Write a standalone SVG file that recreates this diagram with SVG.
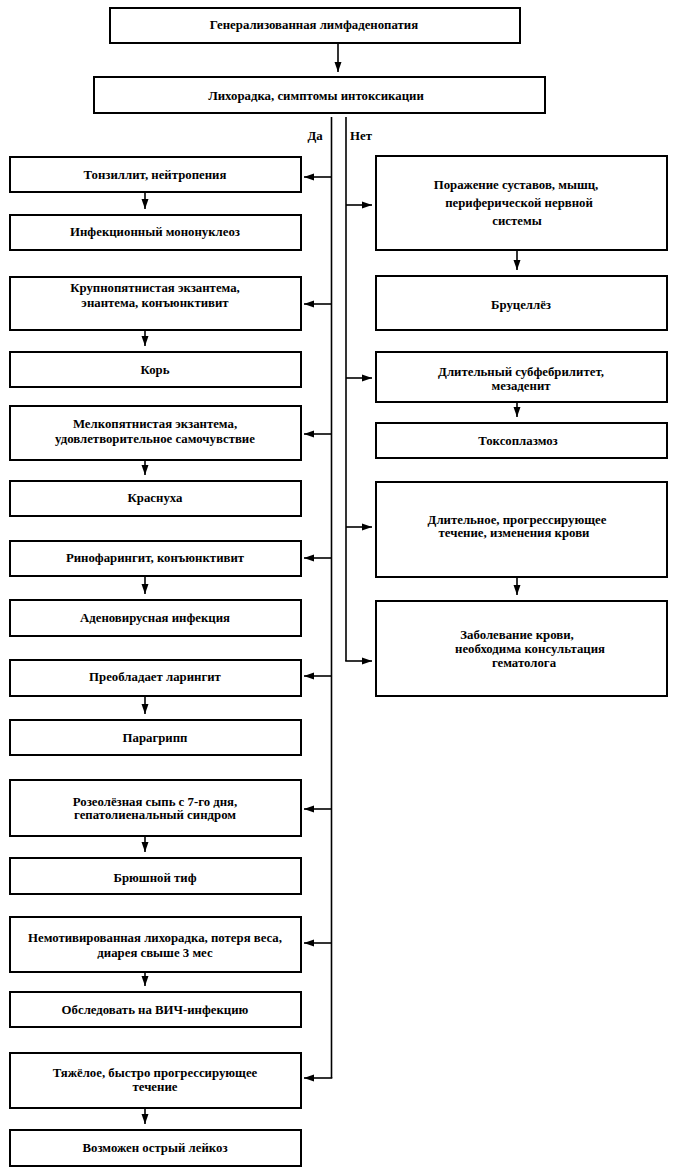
<svg xmlns="http://www.w3.org/2000/svg" width="676" height="1176" viewBox="0 0 676 1176">
<style>
rect.b{fill:#fff;stroke:#000;stroke-width:2}
text{font-family:"Liberation Serif","Times New Roman",serif;font-size:12.8px;font-weight:bold;text-anchor:middle;fill:#000}
.c line,.c path{stroke:#000;stroke-width:1.6;fill:none}
</style>
<defs>
<marker id="ah" markerUnits="userSpaceOnUse" markerWidth="10" markerHeight="10" viewBox="0 0 10 10" refX="10" refY="5" orient="auto">
<path d="M0,1.5 L10,5 L0,8.5 Z" fill="#000"/>
</marker>
</defs>
<rect width="676" height="1176" fill="#fff"/>
<g class="c" id="connectors">
<line x1="338" y1="44" x2="338" y2="72" marker-end="url(#ah)"/>
<line x1="331.5" y1="117" x2="331.5" y2="1078"/>
<line x1="346" y1="117" x2="346" y2="661"/>
<line x1="331.5" y1="177" x2="304" y2="177" marker-end="url(#ah)"/>
<line x1="331.5" y1="304" x2="304" y2="304" marker-end="url(#ah)"/>
<line x1="331.5" y1="434" x2="304" y2="434" marker-end="url(#ah)"/>
<line x1="331.5" y1="558" x2="304" y2="558" marker-end="url(#ah)"/>
<line x1="331.5" y1="676" x2="304" y2="676" marker-end="url(#ah)"/>
<line x1="331.5" y1="809" x2="304" y2="809" marker-end="url(#ah)"/>
<line x1="331.5" y1="943" x2="304" y2="943" marker-end="url(#ah)"/>
<line x1="332.3" y1="1078" x2="304" y2="1078" marker-end="url(#ah)"/>
<line x1="346" y1="205" x2="372" y2="205" marker-end="url(#ah)"/>
<line x1="346" y1="378" x2="372" y2="378" marker-end="url(#ah)"/>
<line x1="346" y1="527" x2="372" y2="527" marker-end="url(#ah)"/>
<line x1="345.2" y1="661" x2="372" y2="661" marker-end="url(#ah)"/>
<line x1="145" y1="193" x2="145" y2="209" marker-end="url(#ah)"/>
<line x1="145" y1="331" x2="145" y2="346" marker-end="url(#ah)"/>
<line x1="145" y1="461" x2="145" y2="475" marker-end="url(#ah)"/>
<line x1="145" y1="577" x2="145" y2="594" marker-end="url(#ah)"/>
<line x1="145" y1="697" x2="145" y2="714" marker-end="url(#ah)"/>
<line x1="145" y1="837" x2="145" y2="852" marker-end="url(#ah)"/>
<line x1="145" y1="973" x2="145" y2="986" marker-end="url(#ah)"/>
<line x1="145" y1="1109" x2="145" y2="1124" marker-end="url(#ah)"/>
<line x1="517" y1="251" x2="517" y2="270" marker-end="url(#ah)"/>
<line x1="517" y1="403" x2="517" y2="417" marker-end="url(#ah)"/>
<line x1="517" y1="578" x2="517" y2="595" marker-end="url(#ah)"/>
<text x="315" y="140">Да</text>
<text x="361" y="140">Нет</text>
</g>
<g id="n-top"><rect class="b" x="110" y="8" width="410" height="35"/><text x="314" y="29">Генерализованная лимфаденопатия</text></g>
<g id="n-fever"><rect class="b" x="94" y="77" width="451" height="36"/><text x="316" y="100">Лихорадка, симптомы интоксикации</text></g>
<g id="n-l1"><rect class="b" x="10" y="157" width="291" height="35"/><text x="155" y="179">Тонзиллит, нейтропения</text></g>
<g id="n-l2"><rect class="b" x="10" y="215" width="291" height="35"/><text x="155" y="236">Инфекционный мононуклеоз</text></g>
<g id="n-l3"><rect class="b" x="10" y="277" width="291" height="53"/><text x="155" y="292">Крупнопятнистая экзантема,</text><text x="155" y="307">энантема, конъюнктивит</text></g>
<g id="n-l4"><rect class="b" x="10" y="352" width="291" height="35"/><text x="155" y="374">Корь</text></g>
<g id="n-l5"><rect class="b" x="10" y="406" width="291" height="54"/><text x="155" y="428">Мелкопятнистая экзантема,</text><text x="155" y="443">удовлетворительное самочувствие</text></g>
<g id="n-l6"><rect class="b" x="10" y="481" width="291" height="35"/><text x="155" y="502">Краснуха</text></g>
<g id="n-l7"><rect class="b" x="10" y="541" width="291" height="35"/><text x="155" y="562">Ринофарингит, конъюнктивит</text></g>
<g id="n-l8"><rect class="b" x="10" y="600" width="291" height="36"/><text x="155" y="622">Аденовирусная инфекция</text></g>
<g id="n-l9"><rect class="b" x="10" y="660" width="291" height="36"/><text x="155" y="681">Преобладает ларингит</text></g>
<g id="n-l10"><rect class="b" x="10" y="720" width="291" height="35"/><text x="155" y="742">Парагрипп</text></g>
<g id="n-l11"><rect class="b" x="10" y="780" width="291" height="56"/><text x="155" y="806">Розеолёзная сыпь с 7-го дня,</text><text x="155" y="819">гепатолиенальный синдром</text></g>
<g id="n-l12"><rect class="b" x="10" y="858" width="291" height="36"/><text x="155" y="882">Брюшной тиф</text></g>
<g id="n-l13"><rect class="b" x="10" y="917" width="291" height="55"/><text x="155" y="942">Немотивированная лихорадка, потеря веса,</text><text x="155" y="957">диарея свыше 3 мес</text></g>
<g id="n-l14"><rect class="b" x="10" y="992" width="291" height="35"/><text x="155" y="1014">Обследовать на ВИЧ-инфекцию</text></g>
<g id="n-l15"><rect class="b" x="10" y="1053" width="291" height="55"/><text x="155" y="1077">Тяжёлое, быстро прогрессирующее</text><text x="155" y="1091">течение</text></g>
<g id="n-l16"><rect class="b" x="10" y="1130" width="291" height="36"/><text x="155" y="1152">Возможен острый лейкоз</text></g>
<g id="n-r1"><rect class="b" x="376" y="156" width="291" height="94"/><text x="516" y="189">Поражение суставов, мышц,</text><text x="519" y="207">периферической  нервной</text><text x="517" y="225">системы</text></g>
<g id="n-r2"><rect class="b" x="376" y="276" width="291" height="54"/><text x="521" y="309">Бруцеллёз</text></g>
<g id="n-r3"><rect class="b" x="376" y="352" width="291" height="50"/><text x="521" y="376">Длительный субфебрилитет,</text><text x="521" y="390">мезаденит</text></g>
<g id="n-r4"><rect class="b" x="376" y="423" width="291" height="35"/><text x="518" y="445">Токсоплазмоз</text></g>
<g id="n-r5"><rect class="b" x="376" y="482" width="291" height="95"/><text x="517" y="524">Длительное, прогрессирующее</text><text x="514" y="537">течение, изменения крови</text></g>
<g id="n-r6"><rect class="b" x="376" y="601" width="291" height="95"/><text x="517" y="639">Заболевание крови,</text><text x="530" y="653">необходима консультация</text><text x="524" y="667">гематолога</text></g>
</svg>
